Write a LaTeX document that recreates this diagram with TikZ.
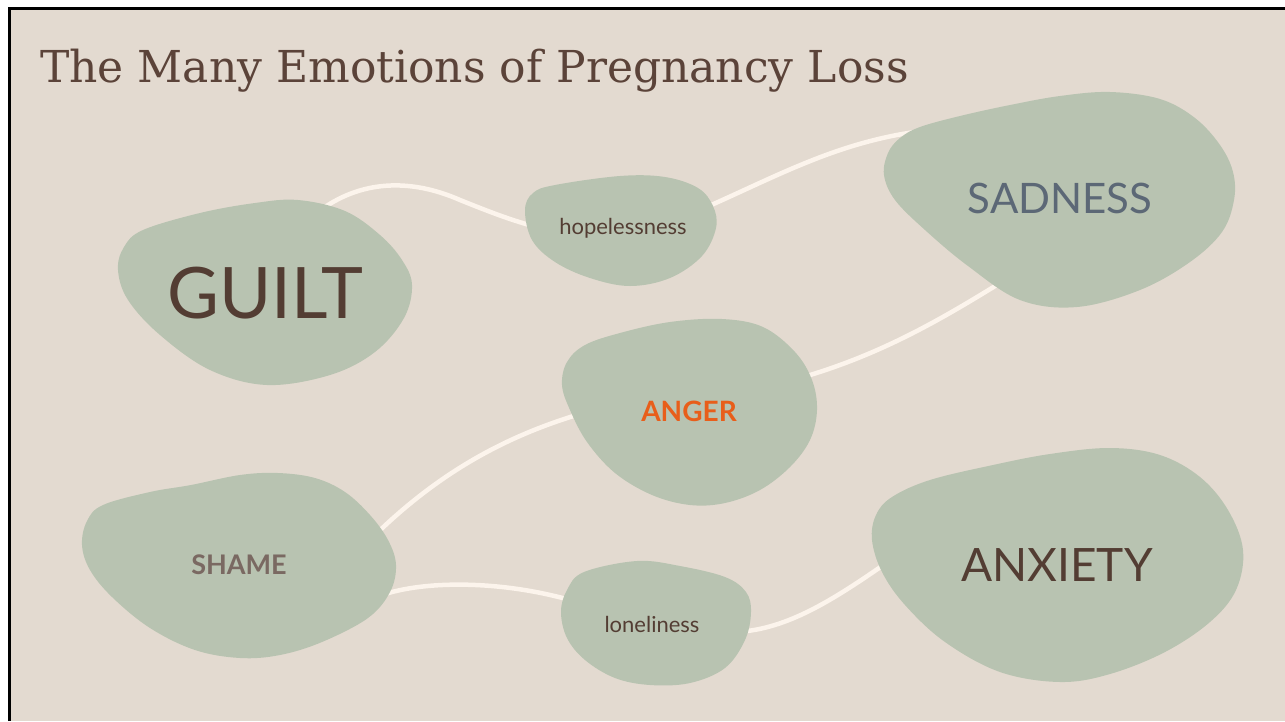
\documentclass[tikz,border=0pt]{standalone}
\usepackage{fontspec}
\setmainfont{DejaVu Serif}
\newfontfamily\labelfont{Lato}
\definecolor{bgc}{HTML}{E3DAD0}
\definecolor{blobc}{HTML}{B8C3B1}
\definecolor{linec}{HTML}{FCF4EC}
\definecolor{titlec}{HTML}{5B4339}
\definecolor{darkc}{HTML}{533D33}
\definecolor{sadc}{HTML}{5C6876}
\definecolor{angerc}{HTML}{E85E1A}
\definecolor{shamec}{HTML}{7A6962}
\begin{document}
\begin{tikzpicture}[x=1pt,y=-1pt,
  blob/.style={fill=blobc,draw=none},
  link/.style={draw=linec,line width=4.5pt},
  lbl/.style={inner sep=0pt,anchor=base,font=\labelfont}]
\useasboundingbox (0,0) rectangle (1285,721);
\fill[white] (0,0) rectangle (1285,721);
\fill[bgc] (9,8.5) rectangle (1285,721);
\draw[black,line width=2.5pt] (9.7,721) -- (9.7,8.7) -- (1285,8.7);
% connector endpoints
\coordinate (g1) at (318,212);
\coordinate (h1) at (540,228);
\coordinate (h2) at (700,210);
\coordinate (s1) at (930,130);
\coordinate (s2) at (1000,283);
\coordinate (a1) at (800,378);
\coordinate (a2) at (580,414);
\coordinate (sh1) at (370,540);
\coordinate (sh2) at (370,600);
\coordinate (l1) at (580,603);
\coordinate (l2) at (735,632);
\coordinate (x1) at (895,557);
% connectors
\draw[link] (g1) .. controls (360,180) and (410,178) .. (460,200) .. controls (490,212) and (510,220) .. (h1);
\draw[link] (h2) .. controls (780,175) and (840,140) .. (s1);
\draw[link] (s2) .. controls (940,320) and (880,355) .. (a1);
\draw[link] (a2) .. controls (510,435) and (440,470) .. (sh1);
\draw[link] (sh2) .. controls (410,580) and (500,578) .. (l1);
\draw[link] (l2) .. controls (790,630) and (840,595) .. (x1);
% blobs
\fill[blob] plot[smooth cycle,tension=0.6] coordinates {(118,270) (124,247) (143,230) (200,213) (255,203) (298,200) (345,211) (380,235) (402,260) (412,285) (404,318) (375,352) (330,375) (267,385) (210,370) (160,335) (128,300)};
\fill[blob] plot[smooth cycle,tension=0.6] coordinates {(525,210) (533,193) (555,185) (620,176) (665,177) (698,188) (713,206) (716,228) (702,256) (670,278) (630,286) (590,278) (555,262) (532,240)};
\fill[blob] plot[smooth cycle,tension=0.6] coordinates {(884,175) (888,153) (900,138) (920,127) (960,116) (1010,105) (1060,96) (1110,92) (1160,99) (1195,118) (1220,145) (1233,172) (1234,200) (1222,232) (1190,262) (1140,290) (1077,307) (1020,300) (968,266) (925,230) (895,200)};
\fill[blob] plot[smooth cycle,tension=0.6] coordinates {(722,319) (763,327) (795,352) (812,380) (817,410) (810,440) (790,467) (760,490) (725,503) (690,505) (652,495) (615,473) (587,442) (570,410) (562,385) (567,362) (585,345) (620,333) (670,322)};
\fill[blob] plot[smooth cycle,tension=0.6] coordinates {(82,545) (87,521) (103,505) (150,492) (191,485) (240,475) (278,473) (315,478) (345,492) (370,515) (388,540) (396,565) (390,592) (368,618) (322,642) (280,655) (240,658) (195,650) (150,628) (112,597) (90,570)};
\fill[blob] plot[smooth cycle,tension=0.6] coordinates {(637,561) (680,566) (725,577) (746,592) (751,612) (745,640) (725,668) (690,683) (650,685) (615,678) (585,660) (567,638) (561,612) (567,590) (584,572)};
\fill[blob] plot[smooth cycle,tension=0.6] coordinates {(872,540) (876,515) (892,497) (930,480) (993,465) (1050,454) (1110,448) (1160,455) (1200,477) (1228,510) (1243,550) (1236,590) (1210,622) (1165,652) (1110,674) (1060,682) (1000,672) (945,642) (905,605) (882,572)};
% title
\node[inner sep=0pt,anchor=base west,text=titlec,font=\fontsize{44}{50}\selectfont] (title) at (40,82) {The Many Emotions of Pregnancy Loss};
% labels
\node[lbl,text=darkc,font=\labelfont\fontsize{71}{78}\selectfont] (guilt) at (265,318) {GUILT};
\node[lbl,text=darkc,font=\labelfont\fontsize{22}{26}\selectfont] (hope) at (623,234) {hopelessness};
\node[lbl,text=sadc,font=\labelfont\fontsize{42}{48}\selectfont] (sad) at (1060,213) {SADNESS};
\node[lbl,text=angerc,font=\labelfont\bfseries\fontsize{28}{32}\selectfont] (anger) at (689,421) {ANGER};
\node[lbl,text=shamec,font=\labelfont\bfseries\fontsize{27}{30}\selectfont] (shame) at (239,574) {SHAME};
\node[lbl,text=darkc,font=\labelfont\fontsize{22}{26}\selectfont] (lonely) at (652,632) {loneliness};
\node[lbl,text=darkc,font=\labelfont\fontsize{46}{50}\selectfont] (anx) at (1057,581) {ANXIETY};
\end{tikzpicture}
\end{document}
